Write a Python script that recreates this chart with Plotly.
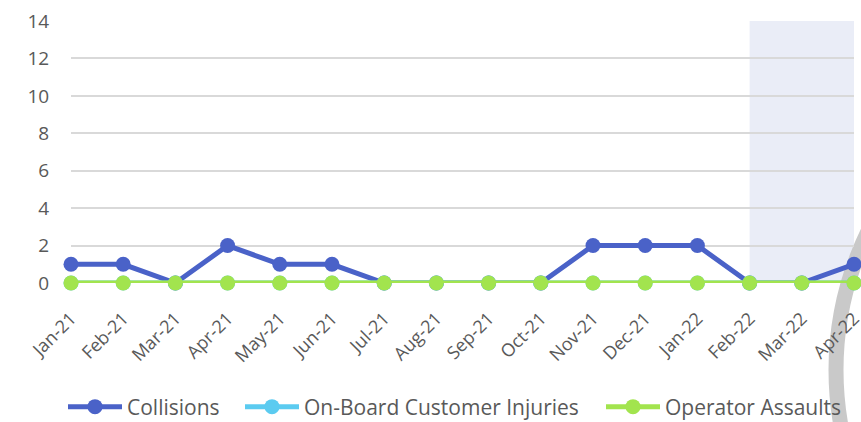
import plotly.graph_objects as go

months = ["Jan-21", "Feb-21", "Mar-21", "Apr-21", "May-21", "Jun-21", "Jul-21", "Aug-21",
          "Sep-21", "Oct-21", "Nov-21", "Dec-21", "Jan-22", "Feb-22", "Mar-22", "Apr-22"]
collisions = [1, 1, 0, 2, 1, 1, 0, 0, 0, 0, 2, 2, 2, 0, 0, 1]
injuries = [0, 0, 0, 0, 0, 0, 0, 0, 0, 0, 0, 0, 0, 0, 0, 0]
assaults = [0, 0, 0, 0, 0, 0, 0, 0, 0, 0, 0, 0, 0, 0, 0, 0]
y_ticks = [0, 2, 4, 6, 8, 10, 12, 14]
shade_start, shade_end = "Feb-22", "Apr-22"

series_names = ["Collisions", "On-Board Customer Injuries", "Operator Assaults"]
series_values = [collisions, injuries, assaults]
series_colors = ["#4A62C8", "#5BCBF0", "#A2E44E"]

W, H = 861, 422
L, T = 71, 21
R, B = W - 854, H - 283
pw, ph = W - L - R, H - T - B

def px2paper(px, py):
    return (px - L) / pw, (H - B - py) / ph

legend_ids = ["legend", "legend2", "legend3"]
legend_left_px = [63, 240, 601]   # left edge of each legend entry
legend_mid_py = 407

fig = go.Figure()
for name, vals, color, lid in zip(series_names, series_values, series_colors, legend_ids):
    fig.add_trace(go.Scatter(
        x=months, y=vals, name=name, mode="lines+markers",
        line=dict(color=color, width=5),
        marker=dict(color=color, size=15),
        cliponaxis=False, legend=lid,
    ))

# shaded forecast region
fig.add_shape(type="rect", xref="x", yref="paper",
              x0=months.index(shade_start), x1=months.index(shade_end), y0=0, y1=1,
              fillcolor="#EAEDF7", line=dict(width=0), layer="below")

# decorative grey arc at right edge
cx, cy, r = 1151, 370, 315
x0, y0 = px2paper(cx - r, cy + r)
x1, y1 = px2paper(cx + r, cy - r)
fig.add_shape(type="circle", xref="paper", yref="paper",
              x0=x0, x1=x1, y0=y0, y1=y1,
              line=dict(color="#C9C9C9", width=15), fillcolor="rgba(0,0,0,0)", layer="between")

font_family = "Open Sans, sans-serif"
legend_layout = {}
for lid, lx in zip(legend_ids, legend_left_px):
    xp, yp = px2paper(lx, legend_mid_py)
    legend_layout[lid] = dict(orientation="h", x=xp, xanchor="left", y=yp, yanchor="middle",
                              font=dict(size=21, color="#595959"), itemwidth=54,
                              bgcolor="rgba(0,0,0,0)", borderwidth=0)

fig.update_layout(
    width=W, height=H,
    margin=dict(l=L, r=R, t=T, b=B, autoexpand=False),
    paper_bgcolor="white", plot_bgcolor="rgba(0,0,0,0)",
    font=dict(family=font_family, color="#595959", size=19),
    showlegend=True,
    xaxis=dict(type="category", range=[0, len(months) - 1], showgrid=False,
               tickangle=-45, ticks="outside", ticklen=17, tickcolor="rgba(0,0,0,0)",
               showline=False, zeroline=False, tickfont=dict(size=18), automargin=False),
    yaxis=dict(range=[0, 14], tickvals=y_ticks, showgrid=True, gridcolor="#D9D9D9",
               gridwidth=1.5, zeroline=False, showline=False,
               ticks="outside", ticklen=17, tickcolor="rgba(0,0,0,0)",
               tickfont=dict(size=19), ticklabeloverflow="allow", automargin=False),
    **legend_layout,
)

fig.write_html("out.html", config={"displayModeBar": False},
               post_script="document.body.style.margin='0';document.body.style.overflow='hidden';")
